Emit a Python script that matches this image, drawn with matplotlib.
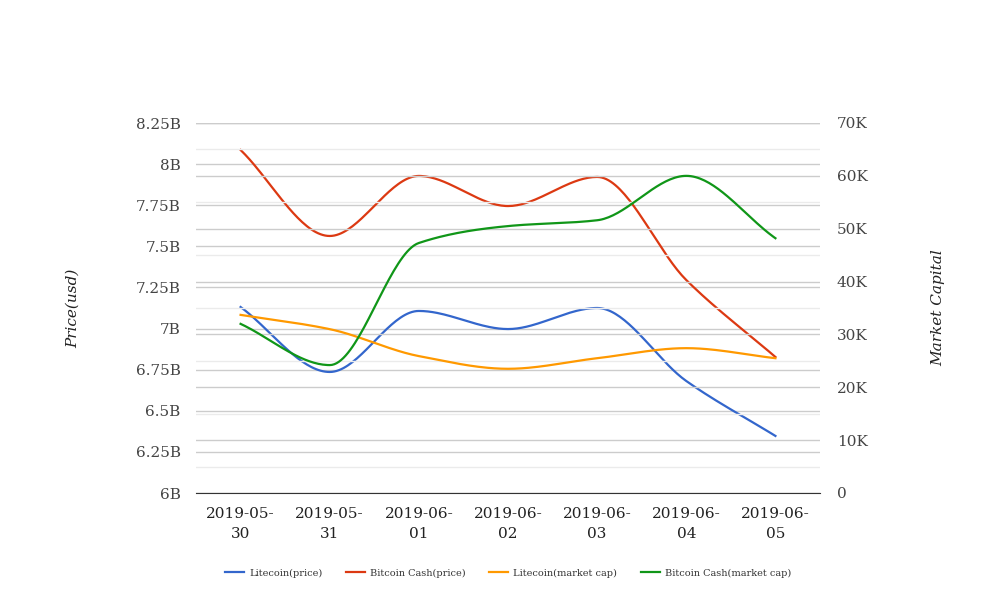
import numpy as np
import matplotlib.pyplot as plt
from matplotlib.ticker import FuncFormatter, MultipleLocator

plt.rcParams['font.family'] = ['DejaVu Serif']

dates = ['2019-05-\n30', '2019-05-\n31', '2019-06-\n01', '2019-06-\n02',
         '2019-06-\n03', '2019-06-\n04', '2019-06-\n05']

# price series (left axis, in billions)
litecoin_price = [7.131, 6.736, 7.107, 6.997, 7.125, 6.681, 6.347]
bch_price = [8.086, 7.563, 7.928, 7.745, 7.922, 7.295, 6.827]

# market cap series (right axis, in thousands)
litecoin_cap = [33.7, 31.0, 25.9, 23.5, 25.5, 27.4, 25.5]
bch_cap = [32.0, 24.2, 47.3, 50.5, 51.6, 60.0, 48.2]

colors = ['#3366CC', '#DC3912', '#FF9900', '#109618']


def monotone(y, n=40):
    # Fritsch-Carlson monotone cubic, for a smooth line through the points
    y = np.asarray(y, float)
    x = np.arange(len(y))
    d = np.diff(y)
    m = np.zeros(len(y))
    m[0], m[-1] = d[0], d[-1]
    for i in range(1, len(y) - 1):
        if d[i - 1] * d[i] > 0:
            m[i] = 2 / (1 / d[i - 1] + 1 / d[i])
    xs, ys = [], []
    for i in range(len(y) - 1):
        t = np.linspace(0, 1, n)
        h00 = 2 * t**3 - 3 * t**2 + 1
        h10 = t**3 - 2 * t**2 + t
        h01 = -2 * t**3 + 3 * t**2
        h11 = t**3 - t**2
        xs.append(x[i] + t)
        ys.append(h00 * y[i] + h10 * m[i] + h01 * y[i + 1] + h11 * m[i + 1])
    return np.concatenate(xs), np.concatenate(ys)


fig = plt.figure(figsize=(10.08, 6.16), dpi=100)
ax = fig.add_axes([196 / 1008, 1 - 493 / 616, 624 / 1008, 370 / 616])
ax2 = ax.twinx()

ax.set_ylim(6, 8.25)
ax.yaxis.set_major_locator(MultipleLocator(0.25))
ax.yaxis.set_major_formatter(FuncFormatter(lambda v, p: f'{v:g}B'))
ax2.set_ylim(0, 70)
ax2.yaxis.set_major_locator(MultipleLocator(10))
ax2.yaxis.set_minor_locator(MultipleLocator(5))
ax2.yaxis.set_major_formatter(FuncFormatter(lambda v, p: '0' if v == 0 else f'{v:g}K'))

ax.set_xlim(-0.5, 6.5)
ax.set_xticks(range(len(dates)))

ax2.grid(which='minor', axis='y', color='#ebebeb', lw=1)
ax2.grid(which='major', axis='y', color='#cccccc', lw=1)
ax.grid(axis='y', color='#cccccc', lw=1)
ax.set_axisbelow(True)

lines = []
for a, data, c, lab in [(ax, litecoin_price, colors[0], 'Litecoin(price)'),
                        (ax, bch_price, colors[1], 'Bitcoin Cash(price)'),
                        (ax2, litecoin_cap, colors[2], 'Litecoin(market cap)'),
                        (ax2, bch_cap, colors[3], 'Bitcoin Cash(market cap)')]:
    xs, ys = monotone(data)
    l, = a.plot(xs, ys, color=c, lw=1.6, label=lab, zorder=5)
    lines.append(l)

for a in (ax, ax2):
    for s in ['top', 'left', 'right']:
        a.spines[s].set_visible(False)
    a.tick_params(which='both', length=0, labelsize=11, labelcolor='#444444')
ax.spines['bottom'].set_color('#333333')
ax2.spines['bottom'].set_visible(False)
ax.tick_params(axis='y', pad=11)
ax.tick_params(axis='x', pad=10)
ax2.tick_params(axis='y', pad=12)
ax.set_xticklabels(dates, fontsize=11, color='#222222', linespacing=1.6)

fig.text(73 / 1008, 1 - 308 / 616, 'Price(usd)', rotation=90, ha='center', va='center',
         fontsize=11, style='italic', color='#222222')
fig.text(938 / 1008, 1 - 308 / 616, 'Market Capital', rotation=90, ha='center', va='center',
         fontsize=11, style='italic', color='#222222')

fig.legend(handles=lines, loc='center', bbox_to_anchor=(508 / 1008, 1 - 573 / 616),
           ncol=4, frameon=False, fontsize=7, handlelength=2.0, columnspacing=2.4,
           handletextpad=0.5, labelcolor='#333333')

fig.savefig('out.png', dpi=100)
